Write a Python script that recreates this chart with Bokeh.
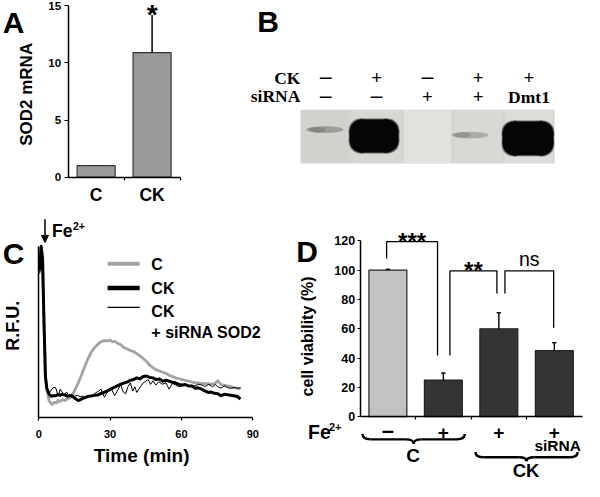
from math import pi
from bokeh.plotting import figure
from bokeh.models import Range1d, LinearAxis, FixedTicker, Arrow, NormalHead
from bokeh.core.properties import value
from bokeh.embed import file_html
from bokeh.resources import INLINE

SANS = "Liberation Sans"
SERIF = "Liberation Serif"

# ---------------- data ----------------
# Panel A
a_groups = ["C", "CK"]
a_sod2 = [1.0, 10.9]
a_err = [0.06, 3.3]
a_yticks = [0, 5, 10, 15]

# Panel B (western blot)
b_ck = ["–", "+", "–", "+", "+"]
b_sirna = ["–", "–", "+", "+", "Dmt1"]
b_band = [0.45, 1.0, 0.0, 0.35, 1.0]

# Panel C (time course, R.F.U.)
c_xticks = [0, 30, 60, 90]
c_ctrl = [(0.4, 85), (1.0, 100), (1.6, 92), (2.2, 55), (2.8, 25), (3.4, 16), (4.3, 10), (5.0, 8.5),
          (5.7, 7.7), (6.5, 9), (7.3, 8.5), (8.2, 10), (9.0, 9.5), (10.0, 10.5), (11.0, 10), (12.0, 11),
          (13.0, 11.5), (14.0, 13), (15.3, 16.5), (16.5, 20), (18.0, 25), (19.4, 30), (20.7, 34.5),
          (22.0, 38), (23.5, 41), (25.0, 43), (26.2, 44.3), (27.5, 45), (29.0, 44.8), (30.0, 45.2),
          (31.0, 44.2), (32.0, 44.6), (33.0, 43.5), (34.5, 42.5), (35.7, 41), (37.0, 40.2), (38.5, 39.2),
          (40.0, 38.5), (41.2, 37.3), (42.5, 36.2), (43.9, 34.5), (45.3, 32.8), (46.6, 30.7), (48.0, 29.2),
          (49.4, 27.9), (50.8, 27.2), (52.1, 26.5), (53.5, 25.8), (54.8, 24.7), (56.2, 24), (57.5, 23.2),
          (58.9, 22.7), (60.3, 22.2), (61.6, 21.8), (63.0, 21.3), (64.4, 20.8), (65.7, 20.3), (67.1, 20.2),
          (68.5, 20), (69.8, 19.8), (71.2, 19.8), (72.5, 19.6), (73.9, 19.8), (75.3, 21.5), (76.6, 19.2),
          (78.0, 19), (79.3, 18.5), (80.7, 18.2), (82.0, 17.5), (83.4, 17.2), (84.8, 16.6)]
c_ck = [(0.4, 86), (1.0, 100), (1.6, 93), (2.2, 56), (2.8, 24), (3.4, 17), (4.4, 13.7), (5.2, 12.5),
        (6.0, 12.8), (7.1, 12.8), (8.0, 13.5), (9.0, 13), (9.8, 13.7), (11.0, 13.2), (12.0, 12.5),
        (13.0, 12.8), (13.9, 12.8), (15.0, 11.5), (16.0, 10.5), (16.7, 10), (17.5, 10.5), (18.7, 11.3),
        (19.7, 11.8), (20.7, 12.4), (22.0, 12.6), (23.5, 13), (24.8, 13.2), (26.0, 14), (27.5, 14.8),
        (28.9, 15.6), (30.0, 16.5), (31.5, 17.5), (33.0, 18.5), (34.5, 19.5), (36.0, 20.3), (37.1, 20.7),
        (38.5, 21.8), (40.0, 22.3), (41.2, 23.2), (42.5, 22.6), (43.9, 24), (45.3, 24.3), (46.6, 23.5),
        (48.0, 23.2), (49.4, 22.2), (50.8, 22.5), (52.1, 21.3), (53.5, 21.8), (54.8, 21.3), (56.2, 20.6),
        (57.5, 20.3), (58.9, 19.4), (60.3, 19), (61.6, 19.3), (63.0, 18.5), (64.4, 18.5), (65.7, 17.1),
        (67.1, 17.4), (68.5, 16.6), (69.8, 15.6), (71.2, 14.7), (72.5, 14.9), (73.9, 14.2), (75.3, 13.9),
        (76.6, 12.8), (78.0, 13.6), (79.4, 13.4), (80.7, 13.1), (82.0, 12.8), (83.5, 12.3), (84.8, 10.9)]
c_ck_si = [(0.4, 84), (1.0, 99), (1.6, 91), (2.2, 57), (2.8, 26), (3.4, 18), (4.4, 14.5), (5.2, 16),
           (6.0, 17.5), (7.1, 17.5), (8.2, 12.5), (9.0, 16.6), (9.8, 15), (10.8, 13), (11.7, 15),
           (12.6, 12.8), (13.8, 12), (15.0, 12.5), (16.2, 13), (17.4, 12.2), (18.6, 12.5), (19.8, 11.5),
           (21.0, 13), (22.2, 12.5), (23.4, 14), (24.6, 15), (26.2, 16.6), (27.6, 11.9), (29.0, 15.5),
           (30.3, 17.5), (31.9, 12.8), (33.2, 16), (34.4, 19.4), (35.5, 15), (36.5, 13.9), (37.5, 18),
           (38.5, 20.3), (39.5, 15.5), (40.4, 18), (41.2, 14.7), (42.5, 17.5), (43.9, 20.3), (46.0, 22.2),
           (47.0, 19.4), (48.0, 21.5), (49.2, 19), (50.5, 21), (51.8, 19.5), (53.5, 20.3), (54.8, 16.6),
           (56.2, 20), (57.5, 19), (58.9, 18), (60.3, 18.5), (61.7, 19), (63.0, 18), (64.4, 18.5),
           (65.7, 18.5), (67.1, 19.5), (68.5, 19), (70.0, 18.2), (71.5, 19.5), (73.0, 18), (74.3, 19.4),
           (75.3, 18), (76.6, 17.2), (78.0, 18.5), (79.4, 17.5), (80.7, 17.1), (82.1, 17.5), (83.5, 17.2),
           (84.9, 17.5)]
c_series = ["C", "CK", "CK\n+ siRNA SOD2"]

# Panel D
d_fe = ["–", "+", "+", "+"]
d_viab = [100, 25, 60, 45]
d_err = [0.6, 4.8, 10.9, 5.5]
d_yticks = [0, 20, 40, 60, 80, 100, 120]
# (label, left x, right x, left leg start, right leg end, top)
d_sig = [("***", 0.477, 1.395, 107.9, 41.8, 119.4),
         ("**", 1.618, 2.465, 41.8, 84.1, 99.5),
         ("ns", 2.61, 3.488, 84.1, 60.6, 99.5)]

# ---------------- figure ----------------
W, H = 584, 481
RW, RH = 600, 497

p = figure(width=W, height=H, x_range=Range1d(0, RW), y_range=Range1d(RH, 0),
           x_axis_type=None, y_axis_type=None, output_backend="svg",
           toolbar_location=None, min_border=0, outline_line_color=None,
           background_fill_color="white", border_fill_color="white")


def xmap(a, b):
    return Range1d(start=(0 - a) / b, end=(RW - a) / b)


def ymap(a, b):
    return Range1d(start=(a - RH) / b, end=a / b)


AX_A, AX_B, AX_C, AX_D = 57.5, 52.2, 2.444, 57.0
p.extra_x_ranges = {"ax": xmap(69.5, AX_A), "bx": xmap(282, AX_B),
                    "cx": xmap(39.3, AX_C), "dx": xmap(369.5, AX_D)}
p.extra_y_ranges = {"ay": ymap(182.5, 11.8), "cy": ymap(431, 1.77), "dy": ymap(430, 1.514)}


def txt(x, y, s, size, font=SANS, style="bold", align="center", baseline="middle",
        angle=0.0, xr="default", yr="default", color="black"):
    xs = x if isinstance(x, list) else [x]
    ys = y if isinstance(y, list) else [y] * len(xs)
    ss = s if isinstance(s, list) else [s] * len(xs)
    p.text(x=xs, y=ys, text=ss, x_range_name=xr, y_range_name=yr,
           text_font=value(font), text_font_style=style, text_font_size=value(f"{size}px"),
           text_align=align, text_baseline=baseline, angle=angle, text_color=color)


def style_axis(ax, size):
    ax.axis_line_width = 1.5
    ax.axis_line_color = "black"
    ax.major_tick_line_color = "black"
    ax.minor_tick_line_color = "black"
    ax.major_tick_line_width = 1.2
    ax.minor_tick_line_width = 1.2
    ax.major_label_text_font = SANS
    ax.major_label_text_font_style = "bold"
    ax.major_label_text_font_size = f"{size}px"
    ax.major_label_text_color = "black"


# ---------------- panel letters ----------------
for letter, lx, ly in [("A", 13.5, 23), ("B", 275, 22), ("C", 13.5, 261), ("D", 315, 259)]:
    txt(lx, ly, letter, 30)

# ---------------- Panel A ----------------
a_x = [i + 0.5 for i in range(len(a_groups))]
p.vbar(x=a_x, top=a_sod2, bottom=0, width=0.68, x_range_name="ax", y_range_name="ay",
       fill_color="#9a9a9a", line_color="#333333", line_width=1.2)
a_top = [v + e for v, e in zip(a_sod2, a_err)]
p.segment(x0=a_x, y0=a_sod2, x1=a_x, y1=a_top, x_range_name="ax", y_range_name="ay",
          line_color="black", line_width=1.5)
txt(a_x[1], a_top[1], "*", 28, xr="ax", yr="ay")

ya = LinearAxis(x_range_name="ax", y_range_name="ay", fixed_location=0, bounds=(0, 15),
                ticker=FixedTicker(ticks=a_yticks, minor_ticks=[]))
style_axis(ya, 11.5)
ya.major_tick_out = 4
ya.major_tick_in = 0
ya.major_label_standoff = 3
p.add_layout(ya, "left")

xa = LinearAxis(x_range_name="ax", y_range_name="ay", fixed_location=0, bounds=(0, 2.01),
                ticker=FixedTicker(ticks=a_x, minor_ticks=[1, 2]))
style_axis(xa, 17.5)
xa.major_label_overrides = {a_x[i]: g for i, g in enumerate(a_groups)}
xa.major_tick_out = 0
xa.major_tick_in = 0
xa.minor_tick_out = 3
xa.minor_tick_in = 0
xa.major_label_standoff = 5
p.add_layout(xa, "below")

txt(-0.74, 7.25, "SOD2 mRNA", 17, angle=pi / 2, xr="ax", yr="ay")

# ---------------- Panel B ----------------
lanes = [i + 1 for i in range(len(b_ck))]
p.quad(left=0.5, right=5.5, top=113, bottom=168.5, x_range_name="bx",
       fill_color="#d4d4d0", line_color=None)
lane_tint = ["#d1d1cd", "#d7d7d3", "#e0e0dd", "#d8d8d4", "#dcdcd9"]
p.quad(left=[l - 0.47 for l in lanes], right=[l + 0.47 for l in lanes], top=113.5, bottom=168,
       x_range_name="bx", fill_color=lane_tint, line_color=None)

# band geometry: lane offset, centre y (px), width (px), height (px)
band_geom = [(-0.02, 133.5, 38, 7), (-0.05, 140, 50, 34), (0, 140, 30, 6),
             (-0.16, 139, 38, 7), (-0.02, 142.5, 52, 35)]
for lane, s, (dx, cy, bw, bh) in zip(lanes, b_band, band_geom):
    cx = lane + dx
    if s >= 0.9:
        r = 12
        for grow, col, alp in [(2, "#1a1a1a", 0.6), (0, "#050505", 1.0)]:
            w = (bw + grow) / AX_B
            h = bh + grow
            rl = r / AX_B
            p.rect(x=[cx], y=[cy], width=w, height=h - 2 * r, x_range_name="bx",
                   fill_color=col, fill_alpha=alp, line_color=None)
            p.rect(x=[cx], y=[cy], width=w - 2 * rl, height=h, x_range_name="bx",
                   fill_color=col, fill_alpha=alp, line_color=None)
            p.scatter(x=[cx - w / 2 + rl, cx + w / 2 - rl, cx - w / 2 + rl, cx + w / 2 - rl],
                      y=[cy - h / 2 + r, cy - h / 2 + r, cy + h / 2 - r, cy + h / 2 - r],
                      size=2 * r * 0.973, marker="circle", x_range_name="bx",
                      fill_color=col, fill_alpha=alp, line_color=None)
    elif s > 0.1:
        p.ellipse(x=[cx], y=[cy], width=bw / AX_B, height=bh, x_range_name="bx",
                  fill_color="#6e6e6e", fill_alpha=s * 1.2, line_color=None)
        p.ellipse(x=[cx - 0.15], y=[cy], width=bw * 0.45 / AX_B, height=bh * 0.8, x_range_name="bx",
                  fill_color="#6a6a6a", fill_alpha=s, line_color=None)

txt(0.5, 80, "CK", 17.5, font=SERIF, align="right", xr="bx")
txt(0.5, 99, "siRNA", 17.5, font=SERIF, align="right", xr="bx")
for lane, c, sv in zip(lanes, b_ck, b_sirna):
    for row_y, lab in [(80, c), (99, sv)]:
        if lab == "–":
            txt(lane, row_y - 1, lab, 23, font=SERIF, xr="bx")
        elif lab == "+":
            txt(lane, row_y, lab, 19, font=SERIF, xr="bx")
        else:
            txt(lane, row_y + 1, lab, 17.5, font=SERIF, xr="bx")

# ---------------- Panel C ----------------
c_cols = ["#a3a3a3", "black", "black"]
c_widths = [2.8, 3.0, 1.0]
for data, col, lw in zip([c_ctrl, c_ck, c_ck_si], c_cols, c_widths):
    p.line(x=[d[0] for d in data], y=[d[1] for d in data], x_range_name="cx", y_range_name="cy",
           line_color=col, line_width=lw, line_join="round")

# legend (drawn)
leg_line_y = [272, 297, 317]
leg_text_y = [273, 298, 321.5]
p.segment(x0=[110] * 3, x1=[143] * 3, y0=leg_line_y, y1=leg_line_y,
          line_color=c_cols, line_width=[4, 4.5, 1.2])
for name, ty in zip(c_series, leg_text_y):
    lines = name.split("\n")
    for k, ln in enumerate(lines):
        txt(155, ty + 21.5 * k, ln, 16, align="left")

yc = LinearAxis(x_range_name="cx", y_range_name="cy", fixed_location=0, bounds=(0, 100),
                ticker=FixedTicker(ticks=[], minor_ticks=[]))
style_axis(yc, 10)
p.add_layout(yc, "left")
xc = LinearAxis(x_range_name="cx", y_range_name="cy", fixed_location=0, bounds=(0, 90),
                ticker=FixedTicker(ticks=c_xticks, minor_ticks=[]))
style_axis(xc, 11)
xc.major_tick_out = 3
xc.major_tick_in = 0
xc.major_label_standoff = 9
p.add_layout(xc, "below")

txt(145, 470, "Time (min)", 19)
txt(-10.8, 53.7, "R.F.U.", 18, angle=pi / 2, xr="cx", yr="cy")

p.add_layout(Arrow(end=NormalHead(size=7, fill_color="black", line_color="black"),
                   x_start=45.7, y_start=226, x_end=45.7, y_end=250,
                   line_width=1.5, line_color="black"))
txt(53, 238.5, "Fe", 17.5, align="left")
txt(74.5, 233, "2+", 10.5, align="left")

# ---------------- Panel D ----------------
d_x = [i + 0.5 for i in range(len(d_viab))]
d_cols = ["#c2c2c2", "#343434", "#343434", "#343434"]
p.vbar(x=d_x, top=d_viab, bottom=0, width=0.684, x_range_name="dx", y_range_name="dy",
       fill_color=d_cols, line_color="#222222", line_width=1.2)
d_top = [v + e for v, e in zip(d_viab, d_err)]
p.segment(x0=d_x, y0=d_viab, x1=d_x, y1=d_top, x_range_name="dx", y_range_name="dy",
          line_color="black", line_width=1.4)
p.segment(x0=[x - 0.04 for x in d_x], x1=[x + 0.04 for x in d_x], y0=d_top, y1=d_top,
          x_range_name="dx", y_range_name="dy", line_color="black", line_width=1.4)

p.multi_line(xs=[[s[1], s[1], s[2], s[2]] for s in d_sig],
             ys=[[s[3], s[5], s[5], s[4]] for s in d_sig],
             x_range_name="dx", y_range_name="dy", line_color="black", line_width=1.3)
for lab, xl, xr_, yl, yr_, yt in d_sig:
    if lab == "ns":
        txt((xl + xr_) / 2, yt + 8, lab, 19.5, style="normal", xr="dx", yr="dy")
    else:
        txt((xl + xr_) / 2, yt, lab, 24, xr="dx", yr="dy")

yd = LinearAxis(x_range_name="dx", y_range_name="dy", fixed_location=0, bounds=(0, 120),
                ticker=FixedTicker(ticks=d_yticks, minor_ticks=[]))
style_axis(yd, 12.5)
yd.major_tick_out = 3
yd.major_tick_in = 0
yd.major_label_standoff = 2
p.add_layout(yd, "left")
xd = LinearAxis(x_range_name="dx", y_range_name="dy", fixed_location=0, bounds=(0, 4.01),
                ticker=FixedTicker(ticks=[], minor_ticks=[1, 2, 3]))
style_axis(xd, 10)
xd.minor_tick_out = 3
xd.minor_tick_in = 0
p.add_layout(xd, "below")

txt(-0.956, 54.8, "cell viability (%)", 16, angle=pi / 2, xr="dx", yr="dy")

txt(316, 445.5, "Fe", 19.5, align="left")
txt(337.5, 440.5, "2+", 11, align="left")
for x, lab in zip(d_x, d_fe):
    if lab == "–":
        txt(x, 444, lab, 22, xr="dx")
    else:
        txt(x, 446, lab, 19, xr="dx")
txt(d_x[3] + 0.06, 459.5, "siRNA", 15.5, xr="dx")

# braces: x0, x1, top, mid, tip
for x0, x1, yt, ym, yb in [(372, 477, 448, 453.5, 458), (488, 593, 466.5, 472, 476)]:
    xm = (x0 + x1) / 2
    r = 8
    p.quadratic(x0=[x0, x1, xm - r, xm + r], y0=[yt, yt, ym, ym],
                x1=[x0 + r, x1 - r, xm, xm], y1=[ym, ym, yb, yb],
                cx=[x0, x1, xm, xm], cy=[ym, ym, ym, ym], line_color="black", line_width=2.4)
    p.segment(x0=[x0 + r, xm + r], x1=[xm - r, x1 - r], y0=[ym, ym], y1=[ym, ym],
              line_color="black", line_width=2.4)

txt(424, 470, "C", 19)
txt(540, 485.5, "CK", 18.5)

open("out.html", "w").write(file_html(p, INLINE))
